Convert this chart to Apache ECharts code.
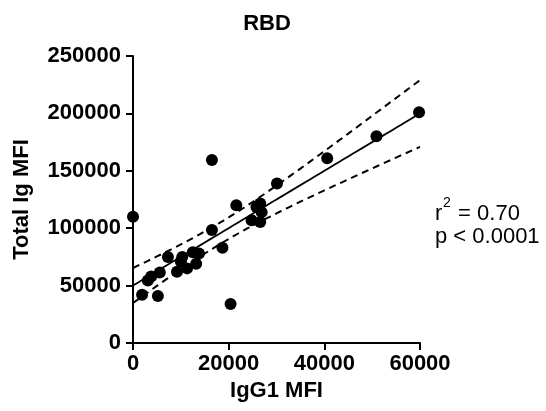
<!DOCTYPE html>
<html>
<head>
<meta charset="utf-8">
<script src="https://cdn.jsdelivr.net/npm/echarts@6/dist/echarts.min.js"></script>
<style>html,body{margin:0;padding:0;background:#fff}#c{width:546px;height:411px}</style>
</head>
<body>
<div id="c"></div>
<script>
// IgG1 MFI (x) and Total Ig MFI (y)
var igg1 = [0, 1900, 3100, 3800, 5200, 5600, 7300, 9200, 10300, 10000, 11300, 12500, 13800, 13200,
            16500, 16500, 18700, 20400, 21600, 24800, 25800, 26600, 26900, 26600, 30100, 40600, 50900, 59800];
var totalIg = [110000, 42000, 54500, 58000, 41000, 61500, 75000, 62000, 75000, 71000, 65000, 79000, 78000, 69000,
               98500, 159500, 83000, 34000, 120000, 107000, 118500, 121500, 114000, 105500, 139000, 161000, 180000, 201000];
var xTicks = [0, 20000, 40000, 60000];
var yTicks = [0, 50000, 100000, 150000, 200000, 250000];
var statLines = ['0.70', '0.0001'];

var F = "'Liberation Sans', Arial, sans-serif";

// linear regression with 95% confidence band
var n = igg1.length;
var mx = 0, my = 0;
for (var i = 0; i < n; i++) { mx += igg1[i]; my += totalIg[i]; }
mx /= n; my /= n;
var sxx = 0, sxy = 0;
for (i = 0; i < n; i++) { sxx += (igg1[i] - mx) * (igg1[i] - mx); sxy += (igg1[i] - mx) * (totalIg[i] - my); }
var b = sxy / sxx, a = my - b * mx;
var sse = 0;
for (i = 0; i < n; i++) { var r = totalIg[i] - (a + b * igg1[i]); sse += r * r; }
var s = Math.sqrt(sse / (n - 2));
var t = 2.056;
var xMin = xTicks[0], xMax = xTicks[xTicks.length - 1];
var fit = [], up = [], lo = [];
for (var k = 0; k <= 60; k++) {
  var x = xMin + (xMax - xMin) * k / 60;
  var yh = a + b * x;
  var se = s * Math.sqrt(1 / n + (x - mx) * (x - mx) / sxx);
  fit.push([x, yh]); up.push([x, yh + t * se]); lo.push([x, yh - t * se]);
}

var pts = igg1.map(function (v, j) { return [v, totalIg[j]]; });

var chart = echarts.init(document.getElementById('c'), null, { renderer: 'canvas' });
var axisCommon = {
  type: 'value',
  axisLine: { show: true, onZero: false, lineStyle: { color: '#000', width: 2 } },
  axisTick: { show: true, length: 7, lineStyle: { color: '#000', width: 2 } },
  splitLine: { show: false },
  nameLocation: 'middle',
  nameTextStyle: { color: '#000', fontFamily: F, fontWeight: 'bold', fontSize: 22 },
  axisLabel: { color: '#000', fontFamily: F, fontWeight: 'bold', fontSize: 22, formatter: function (v) { return String(v); } }
};
chart.setOption({
  animation: false,
  title: { text: 'RBD', left: 262, top: 8, textAlign: 'center',
           textStyle: { color: '#000', fontFamily: F, fontWeight: 'bold', fontSize: 22 } },
  grid: { left: 133, right: 126, top: 56, bottom: 68 },
  xAxis: echarts.util.merge({ min: xMin, max: xMax, interval: 20000, name: 'IgG1 MFI', nameGap: 32,
    axisLabel: { margin: 10 } }, axisCommon),
  yAxis: echarts.util.merge({ min: yTicks[0], max: yTicks[yTicks.length - 1], interval: 50000, name: 'Total Ig MFI', nameGap: 100,
    axisLabel: { margin: 12 } }, axisCommon),
  series: [
    { type: 'line', data: up, symbol: 'none', lineStyle: { color: '#000', width: 2, type: [7, 5] }, z: 2 },
    { type: 'line', data: lo, symbol: 'none', lineStyle: { color: '#000', width: 2, type: [7, 5] }, z: 2 },
    { type: 'line', data: fit, symbol: 'none', lineStyle: { color: '#000', width: 1.8 }, z: 2 },
    { type: 'scatter', data: pts, symbol: 'circle', symbolSize: 12, itemStyle: { color: '#000', opacity: 1 }, clip: false, z: 3 }
  ],
  graphic: [
    { type: 'text', left: 435, top: 203, style: { text: 'r', font: '22px ' + F, fill: '#000' } },
    { type: 'text', left: 443, top: 196, style: { text: '2', font: '14px ' + F, fill: '#000' } },
    { type: 'text', left: 452, top: 203, style: { text: ' = ' + statLines[0], font: '22px ' + F, fill: '#000' } },
    { type: 'text', left: 435, top: 226, style: { text: 'p < ' + statLines[1], font: '22px ' + F, fill: '#000' } }
  ]
});
</script>
</body>
</html>
